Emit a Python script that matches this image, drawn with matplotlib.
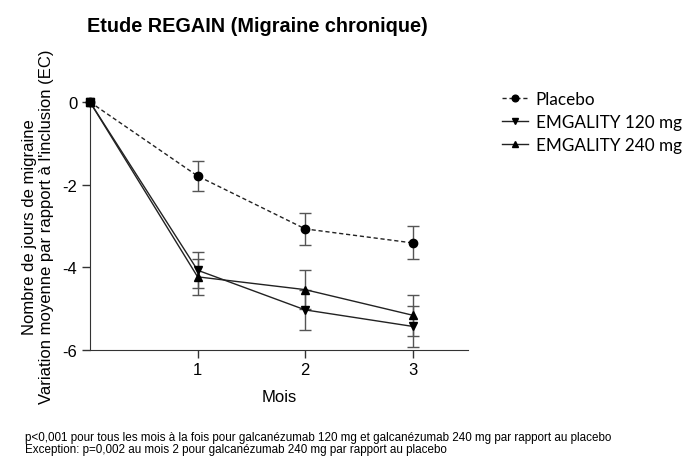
import numpy as np
import matplotlib
matplotlib.use("Agg")
import matplotlib.pyplot as plt
from matplotlib.legend_handler import HandlerLine2D

# ---- data ----
months = [0, 1, 2, 3]

placebo = [0, -1.79, -3.07, -3.41]
placebo_err = [0, 0.36, 0.38, 0.40]

emg120 = [0, -4.07, -5.03, -5.43]
emg120_err = [0, 0.43, 0.48, 0.50]

emg240 = [0, -4.23, -4.54, -5.16]
emg240_err = [0, 0.44, 0.47, 0.50]

series = [
    ("Placebo", placebo, placebo_err, "o", "--"),
    ("EMGALITY 120 mg", emg120, emg120_err, "v", "-"),
    ("EMGALITY 240 mg", emg240, emg240_err, "^", "-"),
]

plt.rcParams["font.family"] = ["Liberation Sans", "DejaVu Sans"]
plt.rcParams["axes.unicode_minus"] = False

fig = plt.figure(figsize=(6.88, 4.6), dpi=100)
ax = fig.add_axes([0.1308, 0.237, 0.549, 0.539])

handles = []
for label, y, err, mk, ls in series:
    ax.errorbar(months[1:], y[1:], yerr=err[1:], fmt="none", ecolor="#555555",
                elinewidth=1, capsize=4, capthick=1, zorder=2)
    kw = dict(dashes=(3, 2)) if ls == "--" else {}
    h, = ax.plot(months, y, color="#222222", lw=1, ls=ls, marker=mk, markersize=6,
                 markerfacecolor="black", markeredgecolor="black", label=label,
                 zorder=3, clip_on=False, **kw)
    handles.append(h)

# origin point drawn as a square, as in the original
ax.plot([0], [0], marker="s", markersize=5.5, color="black", zorder=4, clip_on=False)

ax.set_xlim(0, 3.51)
ax.set_ylim(-6, 0)
ax.set_xticks([1, 2, 3])
ax.set_yticks([0, -2, -4, -6])
ax.tick_params(axis="both", labelsize=12, length=6, width=1, color="#333333", pad=3)
for s in ["top", "right"]:
    ax.spines[s].set_visible(False)
for s in ["left", "bottom"]:
    ax.spines[s].set_color("#333333")

ax.set_xlabel("Mois", fontsize=12, labelpad=8)
ax.set_ylabel("Nombre de jours de migraine\nVariation moyenne par rapport à l'inclusion (EC)",
              fontsize=12, labelpad=6)

fig.text(0.374, 0.942, "Etude REGAIN (Migraine chronique)", ha="center", va="center",
         fontsize=14.3, fontweight="bold")

fig.legend(handles=handles, loc="upper left", bbox_to_anchor=(0.708, 0.834),
           frameon=False, handlelength=1.5, handletextpad=0.45,
           labelspacing=0.42, prop={"family": ["Lato", "DejaVu Sans"], "size": 12.3},
           handler_map={h: HandlerLine2D(marker_pad=0) for h in handles},
           markerscale=0.8)

foot = ("p<0,001 pour tous les mois à la fois pour galcanézumab 120 mg et galcanézumab 240 mg par rapport au placebo\n"
        "Exception: p=0,002 au mois 2 pour galcanézumab 240 mg par rapport au placebo")
fig.text(0.036, 0.009, foot, ha="left", va="bottom", fontsize=8.4, linespacing=1.0,
         family=["Liberation Sans Narrow", "Liberation Sans"])

fig.savefig("out.png", dpi=100)
